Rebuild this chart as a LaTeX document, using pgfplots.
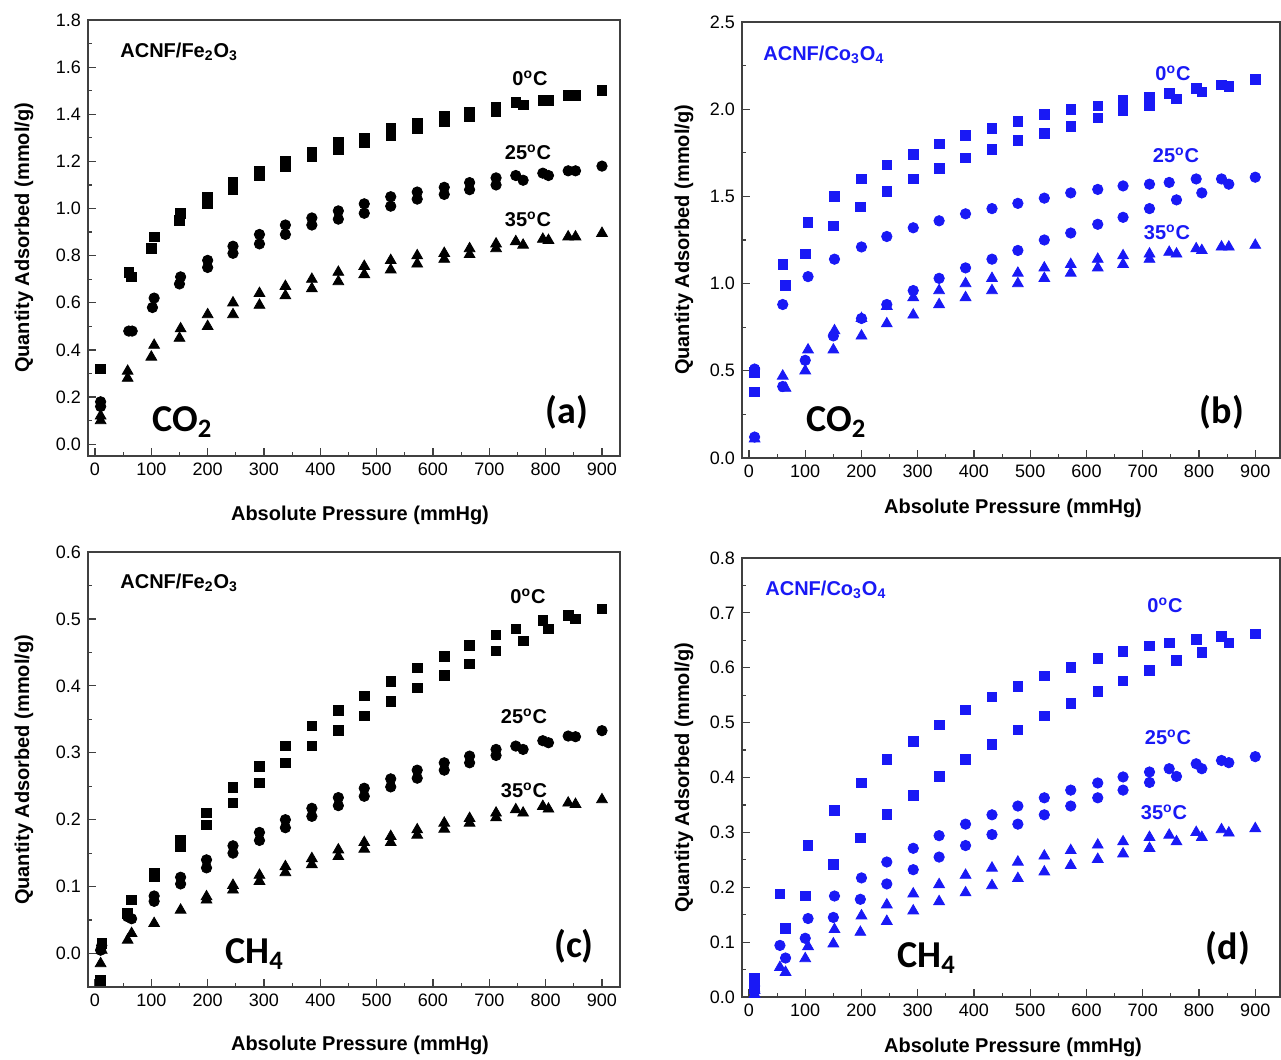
\documentclass[border=0pt]{standalone}
\usepackage{pgfplots}
\pgfplotsset{compat=1.18}
\usepackage{fontspec}
\setmainfont{Liberation Sans}
\newfontfamily\carlito{Carlito}
\definecolor{pblue}{RGB}{25,25,245}
\pgfplotsset{panel/.style={
  scale only axis, clip=false,
  axis line style={draw=black!75, line width=0.7pt},
  ticklabel style={font=\fontsize{9}{10}\selectfont},
  tick style={black!75, line width=0.6pt},
  major tick length=4pt, minor tick length=2.2pt,
  tick align=inside,
  xtick pos=bottom, ytick pos=left,
  minor x tick num=1, minor y tick num=1,
  xtick={0,100,200,300,400,500,600,700,800,900},
  /pgf/number format/assume math mode=true,
  yticklabel style={/pgf/number format/fixed, /pgf/number format/precision=1, /pgf/number format/fixed zerofill},
  only marks,
  sq/.style={mark=square*, mark size=2.4pt},
  ci/.style={mark=*, mark size=2.6pt},
  tr/.style={mark=triangle*, mark size=3.1pt},
}}
\begin{document}
\begin{tikzpicture}
\useasboundingbox (0,0) rectangle (640.5pt,530pt);
% ---------------- (a)
\begin{axis}[panel, at={(44pt,302pt)}, anchor=south west, width=266pt, height=218pt,
  xmin=-12.4, xmax=932, ymin=-0.05, ymax=1.8,
  ytick={0,0.2,0.4,0.6,0.8,1.0,1.2,1.4,1.6,1.8}]
\addplot[sq, black] coordinates {(10,0.32)(60,0.73)(65,0.71)(100,0.83)(105,0.88)(150,0.95)(152,0.98)(200,1.02)(200,1.05)(245,1.08)(245,1.11)(292,1.14)(292,1.16)(338,1.18)(338,1.20)(385,1.22)(385,1.24)(432,1.25)(432,1.28)(478,1.28)(478,1.30)(525,1.31)(525,1.34)(572,1.34)(572,1.36)(620,1.37)(620,1.39)(665,1.39)(665,1.41)(712,1.41)(712,1.43)(747,1.45)(760,1.44)(795,1.46)(805,1.46)(840,1.48)(853,1.48)(900,1.50)};
\addplot[ci, black] coordinates {(10,0.18)(10,0.16)(60,0.48)(66,0.48)(102,0.58)(105,0.62)(150,0.68)(152,0.71)(200,0.75)(200,0.78)(245,0.81)(245,0.84)(292,0.85)(292,0.89)(338,0.89)(338,0.93)(385,0.93)(385,0.96)(432,0.955)(432,0.99)(478,0.98)(478,1.02)(525,1.01)(525,1.05)(572,1.04)(572,1.07)(620,1.06)(620,1.09)(665,1.08)(665,1.11)(712,1.10)(712,1.13)(747,1.14)(760,1.12)(795,1.15)(805,1.14)(840,1.16)(853,1.16)(900,1.18)};
\addplot[tr, black] coordinates {(10,0.10)(10,0.12)(58,0.28)(58,0.31)(100,0.37)(105,0.42)(150,0.45)(152,0.49)(200,0.50)(200,0.55)(245,0.55)(245,0.60)(292,0.59)(292,0.64)(338,0.63)(338,0.67)(385,0.66)(385,0.70)(432,0.69)(432,0.73)(478,0.72)(478,0.755)(525,0.74)(525,0.78)(572,0.765)(572,0.80)(620,0.785)(620,0.81)(665,0.805)(665,0.83)(712,0.83)(712,0.85)(747,0.86)(760,0.845)(795,0.87)(805,0.865)(840,0.88)(853,0.88)(900,0.895)};
\end{axis}
% ---------------- (b)
\begin{axis}[panel, at={(371pt,301pt)}, anchor=south west, width=269pt, height=218pt,
  xmin=-12.4, xmax=944, ymin=0, ymax=2.5,
  ytick={0,0.5,1.0,1.5,2.0,2.5}]
\addplot[sq, pblue] coordinates {(10,0.38)(10,0.49)(60,1.11)(65,0.99)(100,1.17)(105,1.35)(150,1.33)(152,1.50)(198,1.44)(200,1.60)(245,1.53)(245,1.68)(292,1.60)(292,1.74)(338,1.66)(338,1.80)(385,1.72)(385,1.85)(432,1.77)(432,1.89)(478,1.82)(478,1.93)(525,1.86)(525,1.97)(572,1.90)(572,2.00)(620,1.95)(620,2.02)(665,1.99)(665,2.05)(712,2.02)(712,2.07)(747,2.09)(760,2.06)(795,2.12)(805,2.10)(840,2.14)(853,2.13)(900,2.17)};
\addplot[ci, pblue] coordinates {(10,0.51)(10,0.12)(60,0.88)(60,0.41)(100,0.56)(105,1.04)(150,0.70)(152,1.14)(200,0.80)(200,1.21)(245,0.88)(245,1.27)(292,0.96)(292,1.32)(338,1.03)(338,1.36)(385,1.09)(385,1.40)(432,1.14)(432,1.43)(478,1.19)(478,1.46)(525,1.25)(525,1.49)(572,1.29)(572,1.52)(620,1.34)(620,1.54)(665,1.38)(665,1.56)(712,1.43)(712,1.57)(747,1.58)(760,1.48)(795,1.60)(805,1.52)(840,1.60)(853,1.57)(900,1.61)};
\addplot[tr, pblue] coordinates {(10,0.11)(60,0.47)(65,0.40)(100,0.50)(105,0.62)(150,0.62)(152,0.73)(200,0.70)(200,0.80)(245,0.77)(245,0.87)(292,0.82)(292,0.92)(338,0.88)(338,0.96)(385,0.92)(385,1.00)(432,0.96)(432,1.03)(478,1.00)(478,1.06)(525,1.03)(525,1.09)(572,1.06)(572,1.11)(620,1.09)(620,1.14)(665,1.11)(665,1.16)(712,1.14)(712,1.17)(747,1.18)(760,1.17)(795,1.20)(805,1.19)(840,1.21)(853,1.21)(900,1.22)};
\end{axis}
% ---------------- (c)
\begin{axis}[panel, at={(44pt,36.5pt)}, anchor=south west, width=266pt, height=217.5pt,
  xmin=-12.4, xmax=932, ymin=-0.05, ymax=0.6,
  ytick={0,0.1,0.2,0.3,0.4,0.5,0.6}]
\addplot[sq, black] coordinates {(10,-0.04)(12,0.015)(58,0.06)(65,0.08)(105,0.115)(105,0.12)(152,0.16)(152,0.17)(198,0.192)(198,0.21)(245,0.225)(245,0.248)(292,0.255)(292,0.28)(338,0.285)(338,0.31)(385,0.31)(385,0.34)(432,0.333)(432,0.363)(478,0.355)(478,0.385)(525,0.377)(525,0.407)(572,0.397)(572,0.427)(620,0.416)(620,0.444)(665,0.433)(665,0.46)(712,0.452)(712,0.476)(747,0.485)(760,0.467)(795,0.498)(805,0.485)(840,0.505)(853,0.50)(900,0.515)};
\addplot[ci, black] coordinates {(10,0.005)(12,0.012)(58,0.055)(65,0.052)(105,0.078)(105,0.086)(152,0.104)(152,0.114)(198,0.128)(198,0.14)(245,0.15)(245,0.161)(292,0.169)(292,0.181)(338,0.188)(338,0.2)(385,0.205)(385,0.217)(432,0.221)(432,0.233)(478,0.235)(478,0.247)(525,0.249)(525,0.261)(572,0.262)(572,0.274)(620,0.274)(620,0.285)(665,0.285)(665,0.295)(712,0.296)(712,0.305)(747,0.31)(760,0.305)(795,0.318)(805,0.315)(840,0.325)(853,0.324)(900,0.333)};
\addplot[tr, black] coordinates {(10,-0.015)(12,0.005)(58,0.02)(65,0.03)(105,0.045)(152,0.065)(198,0.08)(198,0.085)(245,0.095)(245,0.102)(292,0.108)(292,0.117)(338,0.121)(338,0.13)(385,0.133)(385,0.142)(432,0.145)(432,0.155)(478,0.156)(478,0.166)(525,0.166)(525,0.175)(572,0.177)(572,0.185)(620,0.186)(620,0.195)(665,0.195)(665,0.202)(712,0.203)(712,0.21)(747,0.215)(760,0.21)(795,0.22)(805,0.216)(840,0.225)(853,0.223)(900,0.23)};
\end{axis}
% ---------------- (d)
\begin{axis}[panel, at={(371pt,31.5pt)}, anchor=south west, width=269pt, height=219.5pt,
  xmin=-12.4, xmax=944, ymin=0, ymax=0.8,
  ytick={0,0.1,0.2,0.3,0.4,0.5,0.6,0.7,0.8}]
\addplot[sq, pblue] coordinates {(10,0.035)(10,0.02)(55,0.188)(65,0.125)(100,0.184)(105,0.276)(150,0.242)(152,0.34)(198,0.29)(200,0.39)(245,0.333)(245,0.433)(292,0.367)(292,0.466)(338,0.402)(338,0.496)(385,0.433)(385,0.523)(432,0.46)(432,0.547)(478,0.487)(478,0.566)(525,0.512)(525,0.585)(572,0.535)(572,0.601)(620,0.557)(620,0.617)(665,0.576)(665,0.63)(712,0.595)(712,0.64)(747,0.645)(760,0.613)(795,0.652)(805,0.628)(840,0.657)(853,0.645)(900,0.662)};
\addplot[ci, pblue] coordinates {(10,0.02)(10,0.01)(55,0.094)(65,0.071)(100,0.107)(105,0.143)(150,0.145)(152,0.184)(198,0.178)(200,0.217)(245,0.206)(245,0.246)(292,0.232)(292,0.271)(338,0.255)(338,0.294)(385,0.276)(385,0.315)(432,0.296)(432,0.332)(478,0.315)(478,0.348)(525,0.332)(525,0.363)(572,0.348)(572,0.377)(620,0.363)(620,0.39)(665,0.377)(665,0.401)(712,0.391)(712,0.41)(747,0.416)(760,0.402)(795,0.425)(805,0.416)(840,0.431)(853,0.427)(900,0.438)};
\addplot[tr, pblue] coordinates {(10,0.005)(10,0.012)(55,0.054)(65,0.045)(100,0.07)(105,0.092)(150,0.097)(152,0.123)(198,0.118)(200,0.148)(245,0.138)(245,0.168)(292,0.157)(292,0.188)(338,0.174)(338,0.205)(385,0.19)(385,0.222)(432,0.203)(432,0.235)(478,0.216)(478,0.246)(525,0.228)(525,0.257)(572,0.24)(572,0.267)(620,0.251)(620,0.277)(665,0.261)(665,0.283)(712,0.271)(712,0.291)(747,0.295)(760,0.283)(795,0.3)(805,0.291)(840,0.305)(853,0.299)(900,0.307)};
\end{axis}
% ---------------- labels
\begin{scope}[x=0.5pt,y=0.5pt]
\tikzset{axl/.style={font=\fontsize{10}{12}\selectfont\bfseries, inner sep=0pt},
  tl/.style={font=\fontsize{10}{12}\selectfont\bfseries, inner sep=0pt},
  big/.style={font=\fontsize{19}{22}\selectfont\carlito\bfseries, inner sep=0pt}}
% axis titles
\node[axl] at (360,1060-515) {Absolute Pressure (mmHg)};
\node[axl] at (1013,1060-508) {Absolute Pressure (mmHg)};
\node[axl] at (360,1060-1045) {Absolute Pressure (mmHg)};
\node[axl] at (1013,1060-1047) {Absolute Pressure (mmHg)};
\node[axl, rotate=90] at (24,1060-238) {Quantity Adsorbed (mmol/g)};
\node[axl, rotate=90] at (684,1060-240) {Quantity Adsorbed (mmol/g)};
\node[axl, rotate=90] at (24,1060-770) {Quantity Adsorbed (mmol/g)};
\node[axl, rotate=90] at (684,1060-778) {Quantity Adsorbed (mmol/g)};
% material names
\node[tl, anchor=west] at (120,1060-52) {ACNF/Fe\textsubscript{2}O\textsubscript{3}};
\node[tl, anchor=west, pblue] at (763,1060-55) {ACNF/Co\textsubscript{3}O\textsubscript{4}};
\node[tl, anchor=west] at (120,1060-583) {ACNF/Fe\textsubscript{2}O\textsubscript{3}};
\node[tl, anchor=west, pblue] at (765,1060-590) {ACNF/Co\textsubscript{3}O\textsubscript{4}};
% temperatures
\node[tl] at (530,1060-78) {0\textsuperscript{o}C};
\node[tl] at (528,1060-152) {25\textsuperscript{o}C};
\node[tl] at (528,1060-219) {35\textsuperscript{o}C};
\node[tl, pblue] at (1173,1060-73) {0\textsuperscript{o}C};
\node[tl, pblue] at (1176,1060-155) {25\textsuperscript{o}C};
\node[tl, pblue] at (1167,1060-232) {35\textsuperscript{o}C};
\node[tl] at (528,1060-596) {0\textsuperscript{o}C};
\node[tl] at (524,1060-716) {25\textsuperscript{o}C};
\node[tl] at (524,1060-790) {35\textsuperscript{o}C};
\node[tl, pblue] at (1165,1060-605) {0\textsuperscript{o}C};
\node[tl, pblue] at (1168,1060-737) {25\textsuperscript{o}C};
\node[tl, pblue] at (1164,1060-812) {35\textsuperscript{o}C};
% gases and panel letters
\node[big, anchor=west] at (152,1060-422) {CO\textsubscript{2}};
\node[big, anchor=west] at (806,1060-422) {CO\textsubscript{2}};
\node[big, anchor=west] at (225,1060-954) {CH\textsubscript{4}};
\node[big, anchor=west] at (897,1060-958) {CH\textsubscript{4}};
\node[big] at (567,1060-412) {(a)};
\node[big] at (1222,1060-412) {(b)};
\node[big] at (574,1060-946) {(c)};
\node[big] at (1228,1060-948) {(d)};
\end{scope}
\end{tikzpicture}
\end{document}
